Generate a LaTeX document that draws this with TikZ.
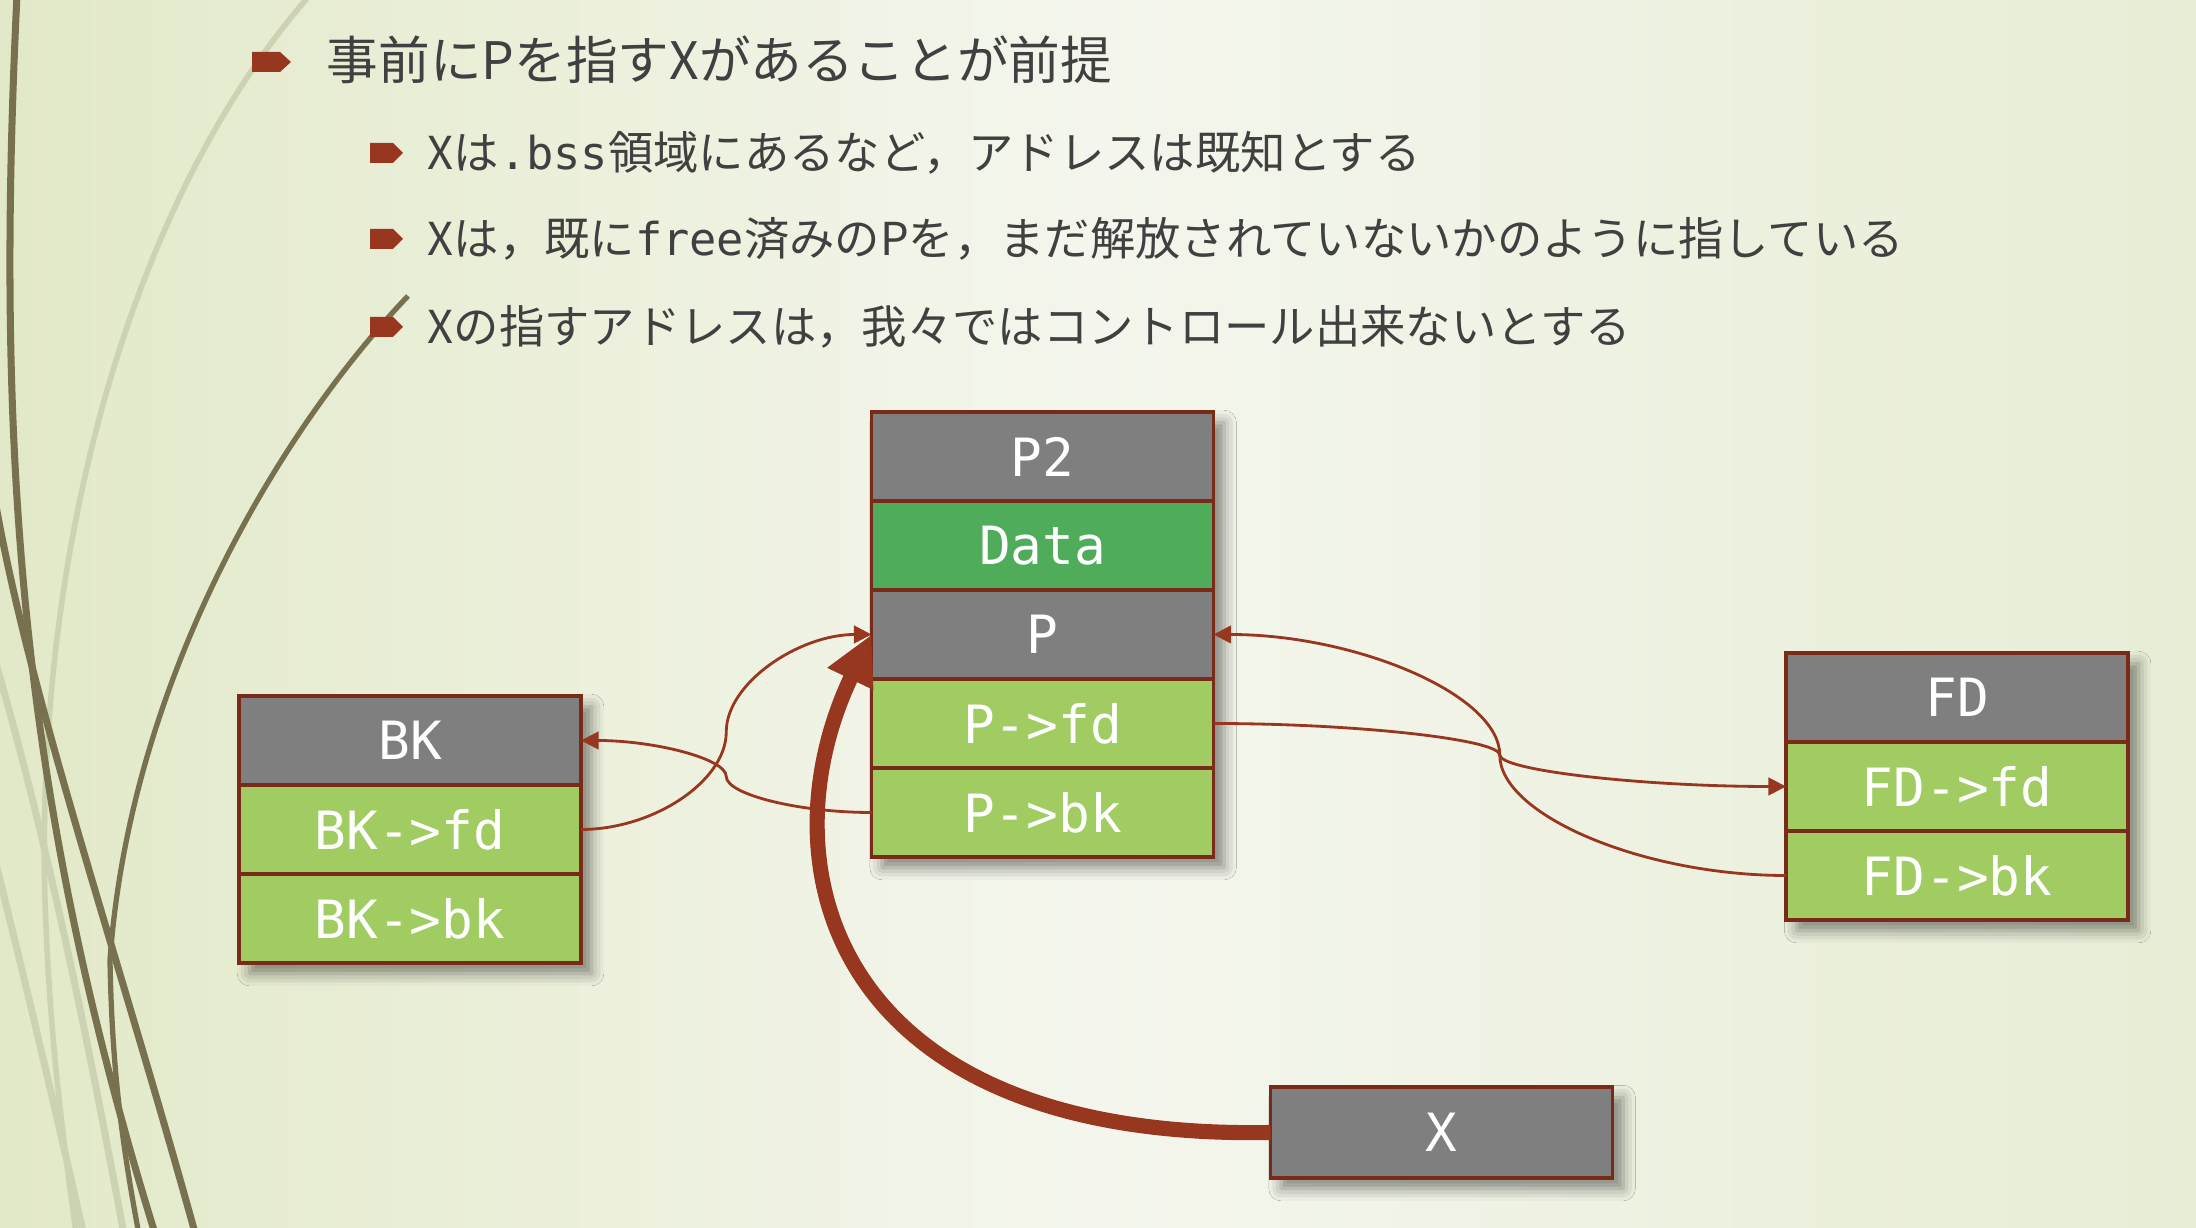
\documentclass[tikz,border=0pt]{standalone}
\usepackage{fontspec}
\newfontfamily\jpfont{Noto Sans CJK JP}
\setmonofont{DejaVu Sans Mono}
\usetikzlibrary{positioning,arrows.meta,shadows.blur,calc}
\definecolor{rust}{HTML}{983720}
\definecolor{rim}{HTML}{7A2A18}
\definecolor{cellgray}{HTML}{7F7F7F}
\definecolor{cellgreen}{HTML}{A0CC62}
\definecolor{datagreen}{HTML}{4EAC5A}
\definecolor{ink}{HTML}{404040}
\definecolor{swirl}{HTML}{77714F}
\definecolor{paleswirl}{HTML}{CBD3B3}
\definecolor{bgside}{HTML}{E2E9C8}
\definecolor{bgmid}{HTML}{F4F6ED}
\definecolor{bgright}{HTML}{E7EDD5}
\tikzset{
  cell/.style={draw=rim, line width=0.9pt, minimum width=3.42cm, minimum height=0.89cm,
    inner sep=0pt, outer sep=0pt, text=white, font=\ttfamily\fontsize{15}{15}\selectfont},
  head/.style={cell, fill=cellgray},
  field/.style={cell, fill=cellgreen},
  datafield/.style={cell, fill=datagreen},
  drop/.style={inner sep=0pt, outer sep=0pt, minimum width=3.42cm,
    blur shadow={shadow xshift=3pt, shadow yshift=-3pt, shadow blur radius=3.5pt, shadow opacity=45}},
  link/.style={rust, line width=0.8pt, -{Triangle[length=5pt,width=5pt]}},
  ptr/.style={rust, line width=4.3pt, -{Triangle[length=14pt,width=13.5pt]}},
  itemtext/.style={anchor=west, inner sep=0pt, text=ink, font=\jpfont\fontsize{12.9}{13}\selectfont}
}
\begin{document}
\begin{tikzpicture}
% backdrop
\shade[left color=bgside, right color=bgright, middle color=bgmid] (0,0) rectangle (21.96,-12.28);
\useasboundingbox (0,0) rectangle (21.96,-12.28);
\begin{scope}
\clip (0,0) rectangle (21.96,-12.28);
\draw[paleswirl, line width=1.6pt] (3.10,0.05) .. controls (1.3,-2.0) and (0.35,-5.5) .. (0.45,-9.0) .. controls (0.5,-10.5) and (0.65,-11.5) .. (0.77,-12.4);
\draw[paleswirl, line width=2pt] (-0.05,-6.6) .. controls (0.5,-8.5) and (0.9,-10.5) .. (1.25,-12.4);
\draw[paleswirl, line width=2pt] (-0.05,-8.6) .. controls (0.3,-10.0) and (0.6,-11.3) .. (0.85,-12.4);
\draw[swirl, line width=2pt] (0.17,0.05) .. controls (-0.05,-4.5) and (0.2,-8.0) .. (1.57,-12.4);
\draw[swirl, line width=2pt] (-0.05,-5.0) .. controls (0.3,-7.0) and (1.2,-9.6) .. (1.97,-12.4);
\draw[swirl, line width=1.5pt] (4.08,-2.96) .. controls (2.8,-4.3) and (1.3,-6.8) .. (1.10,-9.6) .. controls (1.12,-10.8) and (1.25,-11.6) .. (1.40,-12.4);
\end{scope}

% bullets
\fill[rust] (2.52,-0.52) -- (2.80,-0.52) -- (2.91,-0.62) -- (2.80,-0.72) -- (2.52,-0.72) -- cycle;
\foreach \y in {1.53,2.39,3.27}
  \fill[rust] (3.70,{-\y+0.10}) -- ++(0.23,0) -- ++(0.10,-0.10) -- ++(-0.10,-0.10) -- ++(-0.23,0) -- cycle;

\node[itemtext, font=\jpfont\fontsize{14.7}{15}\selectfont] (title) at (3.26,-0.60) {事前にPを指すXがあることが前提};
\node[itemtext] (note1) at (4.27,-1.53) {Xは{\ttfamily .bss}領域にあるなど，アドレスは既知とする};
\node[itemtext] (note2) at (4.27,-2.39) {Xは，既に{\ttfamily free}済みのPを，まだ解放されていないかのように指している};
\node[itemtext] (note3) at (4.27,-3.27) {Xの指すアドレスは，我々ではコントロール出来ないとする};

% chunks
\node[drop, minimum height=4.45cm] (pstack) at (10.425,-6.345) {};
\node[head, below=0pt of pstack.north] (p2) {P2};
\node[datafield, below=0pt of p2] (data) {Data};
\node[head, below=0pt of data] (p) {P};
\node[field, below=0pt of p] (pfd) {P->fd};
\node[field, below=0pt of pfd] (pbk) {P->bk};

\node[drop, minimum height=2.67cm] (bkstack) at (4.10,-8.295) {};
\node[head, below=0pt of bkstack.north] (bk) {BK};
\node[field, below=0pt of bk] (bkfd) {BK->fd};
\node[field, below=0pt of bkfd] (bkbk) {BK->bk};

\node[drop, minimum height=2.67cm] (fdstack) at (19.57,-7.865) {};
\node[head, below=0pt of fdstack.north] (fd) {FD};
\node[field, below=0pt of fd] (fdfd) {FD->fd};
\node[field, below=0pt of fdfd] (fdbk) {FD->bk};

\node[drop, minimum height=0.91cm] (xstack) at (14.415,-11.325) {};
\node[head, minimum height=0.91cm] (x) at (xstack) {X};

% links
\coordinate (m1) at ($(bkfd.east)!.5!(p.west)$);
\coordinate (m2) at ($(pbk.west)!.5!(bk.east)$);
\coordinate (m3) at ($(pfd.east)!.5!(fdfd.west)$);
\coordinate (m4) at ($(fdbk.west)!.5!(p.east)$);
\draw[link] (bkfd.east) .. controls +(0.725,0) and +(0,-0.49) .. (m1) .. controls +(0,0.49) and +(-0.725,0) .. (p.west);
\draw[link] (pbk.west) .. controls +(-0.725,0) and +(0,-0.18) .. (m2) .. controls +(0,0.18) and +(0.725,0) .. (bk.east);
\draw[link] (pfd.east) .. controls +(1.43,0) and +(0,0.155) .. (m3) .. controls +(0,-0.155) and +(-1.43,0) .. (fdfd.west);
\draw[link] (fdbk.west) .. controls +(-1.43,0) and +(0,-0.6) .. (m4) .. controls +(0,0.6) and +(1.43,0) .. (p.east);

\draw[ptr] (x.west) .. controls +(-4.4,-0.08) and +(-1.1,-2.3) .. (p.west);
\end{tikzpicture}
\end{document}
